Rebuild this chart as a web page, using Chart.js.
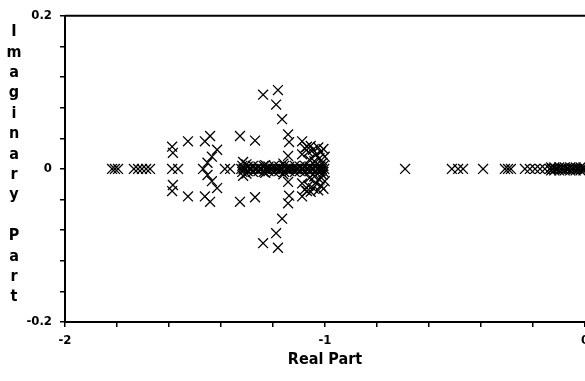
<!DOCTYPE html>
<html>
<head>
<meta charset="utf-8">
<script src="https://cdn.jsdelivr.net/npm/chart.js@4"></script>
<style>
  html,body{margin:0;padding:0;background:#fff;overflow:hidden}
  #wrap{width:600px;height:381px}
</style>
</head>
<body>
<div id="wrap"><canvas id="c" width="600" height="381"></canvas></div>
<script>
// roots lying on the real axis (imag = 0)
const realRoots = [
  -1.819,-1.808,-1.796, -1.735,-1.719,-1.704,-1.688,-1.673, -1.588,-1.565,
  -1.469, -1.385,-1.365,
  -1.322,-1.313,-1.304,-1.292,-1.283,-1.271,-1.262,-1.251,-1.243,-1.231,-1.222,-1.212,
  -1.201,-1.192,-1.181,-1.172,-1.163,-1.151,-1.142,-1.133,-1.121,-1.112,-1.103,-1.092,
  -1.083,-1.072,-1.063,-1.052,-1.043,-1.031,-1.022,-1.012,-1.003,
  -0.692, -0.512,-0.488,-0.469, -0.392, -0.308,-0.296,-0.285,
  -0.231,-0.212,-0.192,-0.173,-0.154,
  -0.135,-0.126,-0.114,-0.105,-0.093,-0.084,-0.072,-0.063,-0.051,-0.042,-0.031,-0.022,-0.011,-0.003
];
// near-real roots forming the dense band (real parts; imag +/- bandIm)
const bandRe = [
  -1.318,-1.297,-1.277,-1.256,-1.236,-1.217,-1.196,-1.176,-1.157,-1.137,
  -1.116,-1.097,-1.077,-1.057,-1.037,-1.017,-1.006,
  -0.130,-0.118,-0.099,-0.078,-0.057,-0.036,-0.017,-0.006
];
const bandIm = [
  0.004,0.003,0.004,0.003,0.004,0.003,0.004,0.003,0.004,0.003,
  0.004,0.003,0.004,0.003,0.004,0.003,0.004,
  0.002,0.002,0.002,0.002,0.002,0.002,0.002,0.002
];
// complex roots (conjugate pairs written out)
const cplxRe = [
  -1.588,-1.588,-1.585,-1.585, -1.527,-1.527,
  -1.462,-1.462,-1.442,-1.442, -1.415,-1.415,-1.435,-1.435,-1.452,-1.452,
  -1.327,-1.327,-1.269,-1.269,
  -1.315,-1.315,-1.302,-1.302,
  -1.238,-1.238,-1.181,-1.181,-1.188,-1.188,-1.165,-1.165,
  -1.142,-1.142,-1.138,-1.138,-1.142,-1.142,
  -1.088,-1.088,-1.088,-1.088,-1.069,-1.069,
  -1.230,-1.230,-1.160,-1.160,
  -1.078,-1.078,-1.064,-1.064,-1.055,-1.055,-1.046,-1.046,-1.036,-1.036,
  -1.026,-1.026,-1.016,-1.016,-1.006,-1.006,-1.060,-1.060,-1.041,-1.041,
  -1.021,-1.021,-1.010,-1.010,-1.001,-1.001
];
const cplxIm = [
  0.029,-0.029,0.021,-0.021, 0.036,-0.036,
  0.036,-0.036,0.043,-0.043, 0.025,-0.025,0.016,-0.016,0.008,-0.008,
  0.043,-0.043,0.037,-0.037,
  0.009,-0.009,0.006,-0.006,
  0.097,-0.097,0.103,-0.103,0.084,-0.084,0.065,-0.065,
  0.045,-0.045,0.035,-0.035,0.017,-0.017,
  0.036,-0.036,0.019,-0.019,0.029,-0.029,
  0.005,-0.005,0.007,-0.007,
  0.027,-0.027,0.022,-0.022,0.030,-0.030,0.025,-0.025,0.018,-0.018,
  0.028,-0.028,0.022,-0.022,0.026,-0.026,0.012,-0.012,0.010,-0.010,
  0.014,-0.014,0.008,-0.008,0.016,-0.016
];
const xTickLabels = {'-2':'-2','-1':'-1','0':'0'};
const yTickLabels = {'0.2':'0.2','0':'0','-0.2':'-0.2'};
const yTitle = ['I','m','a','g','i','n','a','r','y','','P','a','r','t'];

const pts = realRoots.map(x => ({x, y:0}))
  .concat(bandRe.map((x,i) => ({x, y:bandIm[i]})))
  .concat(bandRe.map((x,i) => ({x, y:-bandIm[i]})))
  .concat(cplxRe.map((x,i) => ({x, y:cplxIm[i]})));

const FONT = "'Liberation Sans Narrow', 'DejaVu Sans Condensed', sans-serif";

const decor = {
  id:'decor',
  afterDraw(chart){
    const {ctx, chartArea:a} = chart;
    ctx.save();
    ctx.strokeStyle = '#000'; ctx.lineWidth = 2;
    ctx.beginPath(); ctx.moveTo(a.left, a.top); ctx.lineTo(a.right, a.top); ctx.stroke();
    ctx.fillStyle = '#000';
    ctx.font = 'bold 16px ' + FONT;
    ctx.textAlign = 'center'; ctx.textBaseline = 'middle';
    yTitle.forEach((ch,i) => { if(ch) ctx.fillText(ch, 14, 32 + i*20.4); });
    ctx.restore();
  }
};

const lbl = (map) => (v) => {
  const k = Math.abs(v) < 1e-9 ? '0' : String(+v.toFixed(2));
  return map[k] ?? '';
};

new Chart(document.getElementById('c'), {
  type:'scatter',
  data:{ datasets:[{ data: pts, pointStyle:'crossRot', radius:7, hoverRadius:7,
    borderColor:'#000', backgroundColor:'#000', borderWidth:1.3 }] },
  options:{
    responsive:false, animation:false,
    layout:{ padding:{ top:14, right:15, left:0, bottom:0 } },
    plugins:{ legend:{display:false}, tooltip:{enabled:false} },
    scales:{
      x:{ type:'linear', min:-2, max:0,
        afterFit(s){ s.height = 59; },
        ticks:{ stepSize:0.2, autoSkip:false, maxRotation:0, color:'#000', padding:6,
          font:{ family:FONT, size:13, weight:'bold' }, callback: lbl(xTickLabels) },
        grid:{ display:true, drawOnChartArea:false, color:'#000', lineWidth:1.5, tickLength:5 },
        border:{ display:true, color:'#000', width:2 },
        title:{ display:true, text:'Real Part', color:'#000', padding:{top:0,bottom:12},
          font:{ family:FONT, size:16, weight:'bold' } }
      },
      y:{ type:'linear', min:-0.2, max:0.2,
        afterFit(s){ s.width = 65; },
        ticks:{ stepSize:0.04, autoSkip:false, color:'#000', padding:8,
          font:{ family:FONT, size:13, weight:'bold' }, callback: lbl(yTickLabels) },
        grid:{ display:true, drawOnChartArea:false, color:'#000', lineWidth:1.5, tickLength:5 },
        border:{ display:true, color:'#000', width:2 }
      }
    }
  },
  plugins:[decor]
});
</script>
</body>
</html>
